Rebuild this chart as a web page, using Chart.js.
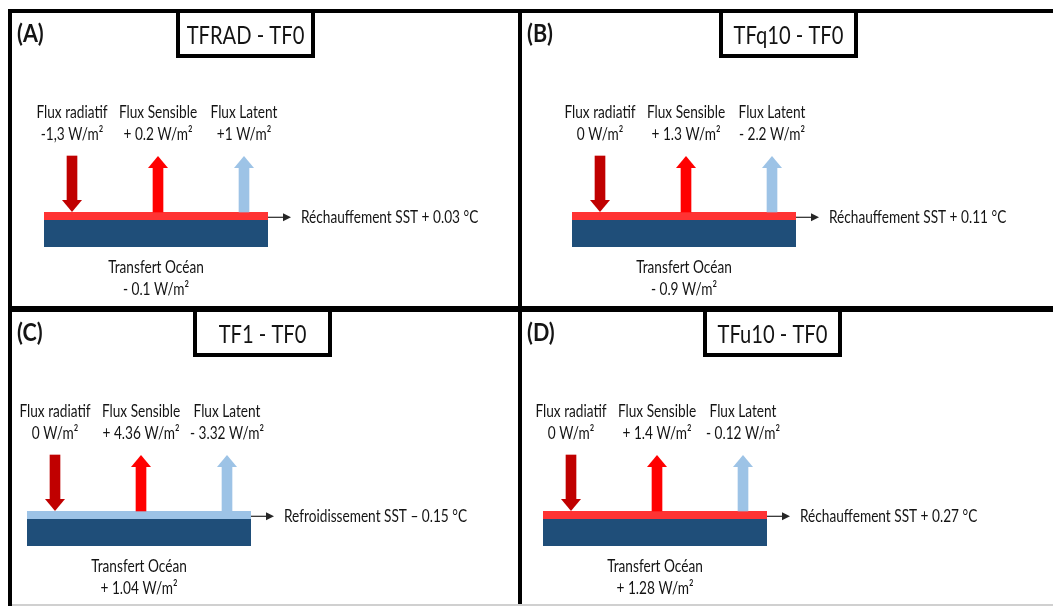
<!DOCTYPE html>
<html>
<head>
<meta charset="utf-8">
<script src="https://cdn.jsdelivr.net/npm/chart.js@4"></script>
<style>
  body { margin: 0; background: #fff; }
  #wrap { position: relative; width: 1053px; height: 606px; overflow: hidden; }
  #wrap canvas { position: absolute; }
  .ln { position: absolute; background: #000; }
</style>
</head>
<body>
<div id="wrap">
  <canvas id="pA" width="506" height="293" style="left:12px;top:13px"></canvas>
  <canvas id="pB" width="531" height="293" style="left:522px;top:13px"></canvas>
  <canvas id="pC" width="506" height="292" style="left:12px;top:312px"></canvas>
  <canvas id="pD" width="531" height="292" style="left:522px;top:312px"></canvas>
  <div class="ln" style="left:8px;top:9px;width:1045px;height:4px"></div>
  <div class="ln" style="left:8px;top:9px;width:4px;height:597px"></div>
  <div class="ln" style="left:518px;top:9px;width:4px;height:597px"></div>
  <div class="ln" style="left:8px;top:306px;width:1045px;height:6px"></div>
  <div class="ln" style="left:12px;top:604px;width:1041px;height:2px;background:#d0d0d0"></div>
</div>
<script>
// data
var panelIds = ['pA', 'pB', 'pC', 'pD'];
var panelLetters = ['(A)', '(B)', '(C)', '(D)'];
var panelTitles = ['TFRAD - TF0', 'TFq10 - TF0', 'TF1 - TF0', 'TFu10 - TF0'];
var fluxNames = ['Flux radiatif', 'Flux Sensible', 'Flux Latent'];
var fluxDirections = ['down', 'up', 'up'];
var radiatifLabels = ['-1,3 W/m²', '0 W/m²', '0 W/m²', '0 W/m²'];
var sensibleLabels = ['+ 0.2 W/m²', '+ 1.3 W/m²', '+ 4.36 W/m²', '+ 1.4 W/m²'];
var latentLabels = ['+1 W/m²', '- 2.2 W/m²', '- 3.32 W/m²', '- 0.12 W/m²'];
var oceanLabels = ['- 0.1 W/m²', '- 0.9 W/m²', '+ 1.04 W/m²', '+ 1.28 W/m²'];
var sstValues = [0.03, 0.11, -0.15, 0.27];
var sstLabels = ['Réchauffement SST + 0.03 °C', 'Réchauffement SST + 0.11 °C',
                 'Refroidissement SST – 0.15 °C', 'Réchauffement SST + 0.27 °C'];

// layout (px inside each panel)
var slabLeft = [32, 50, 15, 21];
var titleLeft = [164, 197, 181, 181];
var L = {
  colWidth: 86, firstCol: 28, slabWidth: 224,
  arrowTop: 143, slabTop: 199, stripeH: 8, slabBottom: 234,
  headLen: 12, headHalf: 10, shaft: 10,
  nameY: 104.5, valueY: 127, oceanNameY: 260, oceanValueY: 282, sstY: 210,
  titleW: 139, titleH: 45, titleY: 30.5, letterX: 5, letterY: 29
};
var fluxColors = ['#C00000', '#FF0000', '#9DC3E6'];
var navy = '#1F4E79';
var textColor = '#141414';
var FONT = 'Lato, "Noto Sans", sans-serif';
var SX = 0.78;

function txt(ctx, s, x, y, size, align, bold, sx) {
  ctx.save();
  ctx.translate(x, y);
  ctx.scale(sx || SX, 1);
  ctx.font = (bold ? 'bold ' : '') + size + 'px ' + FONT;
  ctx.fillStyle = textColor;
  ctx.textAlign = align;
  ctx.textBaseline = 'alphabetic';
  ctx.fillText(s, 0, 0);
  ctx.restore();
}

var diagram = {
  id: 'diagram',
  beforeDatasetsDraw: function (chart) {
    var p = chart.options.plugins.diagram.panel;
    var ctx = chart.ctx, x = chart.scales.x, y = chart.scales.y;
    var sl = x.getPixelForValue(0) - L.firstCol;
    ctx.save();
    ctx.fillStyle = navy;
    ctx.fillRect(sl, y.getPixelForValue(L.slabTop + L.stripeH), L.slabWidth, L.slabBottom - L.slabTop - L.stripeH);
    ctx.fillStyle = sstValues[p] >= 0 ? '#FF3333' : '#9DC3E6';
    ctx.fillRect(sl, y.getPixelForValue(L.slabTop), L.slabWidth, L.stripeH);
    ctx.restore();
  },
  afterDatasetsDraw: function (chart) {
    var p = chart.options.plugins.diagram.panel;
    var ctx = chart.ctx, x = chart.scales.x, y = chart.scales.y;
    var meta = chart.getDatasetMeta(0);
    var values = [radiatifLabels[p], sensibleLabels[p], latentLabels[p]];
    for (var i = 0; i < fluxNames.length; i++) {
      var cx = meta.data[i].x;
      ctx.fillStyle = fluxColors[i];
      ctx.beginPath();
      if (fluxDirections[i] === 'down') {
        var hy = y.getPixelForValue(L.slabTop - L.headLen);
        ctx.moveTo(cx - L.headHalf, hy);
        ctx.lineTo(cx + L.headHalf, hy);
        ctx.lineTo(cx, y.getPixelForValue(L.slabTop));
      } else {
        var uy = y.getPixelForValue(L.arrowTop + L.headLen);
        ctx.moveTo(cx - L.headHalf, uy);
        ctx.lineTo(cx + L.headHalf, uy);
        ctx.lineTo(cx, y.getPixelForValue(L.arrowTop));
      }
      ctx.closePath();
      ctx.fill();
      txt(ctx, fluxNames[i], cx, L.nameY, 17.5, 'center');
      txt(ctx, values[i], cx, L.valueY, 17.5, 'center');
    }
    var sl = x.getPixelForValue(0) - L.firstCol;
    var sr = sl + L.slabWidth;
    var ly = y.getPixelForValue(L.slabTop + 5.3);
    ctx.save();
    ctx.strokeStyle = '#262626';
    ctx.lineWidth = 1.2;
    ctx.beginPath();
    ctx.moveTo(sr, ly);
    ctx.lineTo(sr + 16, ly);
    ctx.stroke();
    ctx.fillStyle = '#262626';
    ctx.beginPath();
    ctx.moveTo(sr + 15, ly - 4);
    ctx.lineTo(sr + 23, ly);
    ctx.lineTo(sr + 15, ly + 4);
    ctx.closePath();
    ctx.fill();
    ctx.restore();
    txt(ctx, sstLabels[p], sr + 33, L.sstY, 17.5, 'left');
    txt(ctx, 'Transfert Océan', sl + L.slabWidth / 2, L.oceanNameY, 17.5, 'center');
    txt(ctx, oceanLabels[p], sl + L.slabWidth / 2, L.oceanValueY, 17.5, 'center');

    // panel letter + title box
    txt(ctx, panelLetters[p], L.letterX, L.letterY, 25, 'left', true, 0.86);
    var tl = titleLeft[p];
    ctx.save();
    ctx.strokeStyle = '#000';
    ctx.lineWidth = 4;
    ctx.beginPath();
    ctx.moveTo(tl + 2, 0);
    ctx.lineTo(tl + 2, L.titleH - 2);
    ctx.lineTo(tl + L.titleW - 2, L.titleH - 2);
    ctx.lineTo(tl + L.titleW - 2, 0);
    ctx.stroke();
    ctx.restore();
    txt(ctx, panelTitles[p], tl + L.titleW / 2, L.titleY, 25.5, 'center', false, 0.79);
  }
};

function makePanel(p) {
  var canvas = document.getElementById(panelIds[p]);
  var areaLeft = slabLeft[p] + L.firstCol - L.colWidth / 2;
  var areaW = L.colWidth * fluxNames.length;
  new Chart(canvas.getContext('2d'), {
    type: 'bar',
    data: {
      labels: fluxNames,
      datasets: [{
        data: fluxDirections.map(function (d) {
          return d === 'down' ? [L.arrowTop, L.slabTop - L.headLen] : [L.arrowTop + L.headLen, L.slabTop];
        }),
        backgroundColor: fluxColors,
        barThickness: L.shaft,
        borderWidth: 0
      }]
    },
    options: {
      responsive: false,
      animation: false,
      layout: { padding: { left: areaLeft, right: canvas.width - areaLeft - areaW, top: 0, bottom: 0 } },
      scales: {
        x: { display: false },
        y: { display: false, reverse: true, min: 0, max: canvas.height }
      },
      plugins: {
        legend: { display: false },
        tooltip: { enabled: false },
        diagram: { panel: p }
      }
    },
    plugins: [diagram]
  });
}

for (var p = 0; p < panelIds.length; p++) makePanel(p);
</script>
</body>
</html>
